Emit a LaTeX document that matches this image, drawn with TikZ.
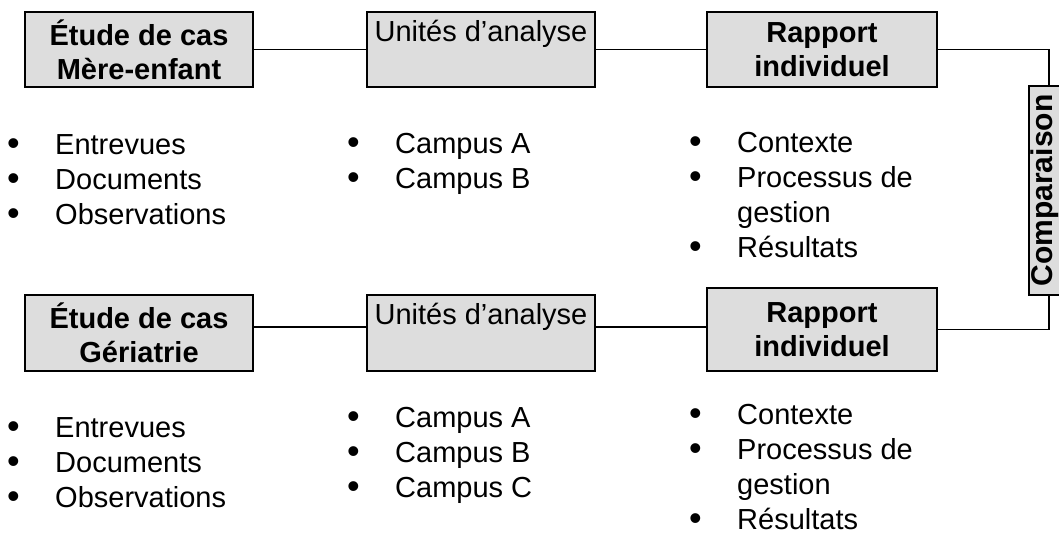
\documentclass[tikz,border=0pt]{standalone}
\usepackage{fontspec}
\setmainfont{Liberation Sans}
\definecolor{boxgray}{HTML}{DDDDDD}
% bullet followed by the item text, with a fixed indent
\newcommand\lbul{\makebox[48pt][l]{\fontsize{36}{35}\selectfont\raisebox{-1.5pt}[0pt][0pt]{\textbullet}}}
\newcommand\lgap{\hspace*{48pt}}
\begin{document}
\begin{tikzpicture}[x=1pt,y=-1pt,
  box/.style={draw=black, line width=1.6pt, fill=boxgray, minimum width=228pt,
    minimum height=75pt, inner sep=0pt, align=center,
    font=\bfseries\fontsize{29}{34}\selectfont},
  boxtext/.style={anchor=base, inner sep=0pt, font=\fontsize{29}{34}\selectfont},
  list/.style={anchor=base west, inner sep=0pt, align=left,
    font=\fontsize{29}{35}\selectfont},
  link/.style={draw=black, line width=1.4pt}]
\useasboundingbox (0,0) rectangle (1059,536);

% upper case study
\node[box] (topA) at (139,49.5) {Étude de cas\\Mère-enfant};
\node[box] (topB) at (481,49.5) {};
\node[boxtext] (topBt) at ([yshift=-30pt]topB.north) {Unités d’analyse};
\node[box, minimum width=230pt] (topC) at (822,49.5) {Rapport\\individuel};

% comparison box on the right edge
\node[box, minimum width=40pt, minimum height=209pt] (comp) at (1049,190.5) {};
\node[rotate=90, inner sep=0pt, font=\bfseries\fontsize{30}{34}\selectfont]
  (compt) at (1045,190.5) {Comparaison};

% lower case study
\node[box, minimum height=76pt] (botA) at (139,333) {Étude de cas\\Gériatrie};
\node[box, minimum height=76pt] (botB) at (481,333) {};
\node[boxtext] (botBt) at ([yshift=-30pt]botB.north) {Unités d’analyse};
\node[box, minimum width=230pt, minimum height=83pt] (botC) at (822,329.5) {Rapport\\individuel};

% connectors
\draw[link] (topA.east) -- (topB.west);
\draw[link] (topB.east) -- (topC.west);
\draw[link] (topC.east) -| (comp.north);
\draw[link] ([yshift=6pt]botA.east) -- ([yshift=6pt]botB.west);
\draw[link] ([yshift=6pt]botB.east) -- ([yshift=6pt]botB.east -| botC.west);
\draw[link] (comp.south) |- (botC.east);

% upper lists (placed by the baseline of their last line)
\node[list] (l1) at (7,224) {\lbul Entrevues\\\lbul Documents\\\lbul Observations};
\node[list] (l2) at (347,188) {\lbul Campus A\\\lbul Campus B};
\node[list] (l3) at (689,257) {\lbul Contexte\\\lbul Processus de\\\lgap gestion\\\lbul Résultats};

% lower lists
\node[list] (l4) at (7,507) {\lbul Entrevues\\\lbul Documents\\\lbul Observations};
\node[list] (l5) at (347,497) {\lbul Campus A\\\lbul Campus B\\\lbul Campus C};
\node[list] (l6) at (689,529) {\lbul Contexte\\\lbul Processus de\\\lgap gestion\\\lbul Résultats};
\end{tikzpicture}
\end{document}
